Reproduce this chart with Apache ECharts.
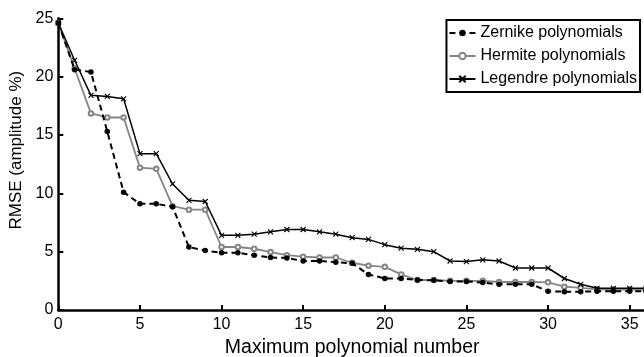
<!DOCTYPE html>
<html>
<head>
<meta charset="utf-8">
<script src="https://cdn.jsdelivr.net/npm/echarts@6/dist/echarts.min.js"></script>
<style>
html,body{margin:0;padding:0;background:#fff;}
#chart{width:644px;height:357px;}
</style>
</head>
<body>
<div id="chart"></div>
<script>
var polyNumbers = [0,1,2,3,4,5,6,7,8,9,10,11,12,13,14,15,16,17,18,19,20,21,22,23,24,25,26,27,28,29,30,31,32,33,34,35,36];
var zernike = [24.6,20.6,20.4,15.3,10.1,9.1,9.1,8.85,5.4,5.1,4.9,4.9,4.7,4.5,4.45,4.2,4.2,4.1,4.0,3.05,2.7,2.7,2.57,2.55,2.45,2.45,2.35,2.2,2.2,2.2,1.6,1.57,1.57,1.6,1.6,1.6,1.6];
var hermite = [24.6,20.7,16.85,16.5,16.5,12.2,12.1,8.9,8.6,8.6,5.4,5.4,5.25,4.97,4.7,4.57,4.5,4.5,4.05,3.8,3.7,3.05,2.57,2.57,2.5,2.5,2.5,2.4,2.4,2.4,2.37,2.0,1.9,1.77,1.75,1.75,1.75];
var legendre = [24.6,21.4,18.4,18.3,18.1,13.4,13.4,10.8,9.4,9.3,6.4,6.4,6.5,6.7,6.9,6.9,6.7,6.5,6.2,6.05,5.6,5.3,5.2,5.0,4.2,4.15,4.3,4.2,3.6,3.6,3.6,2.7,2.2,1.86,1.86,1.86,1.86];
var seriesNames = ['Zernike polynomials','Hermite polynomials','Legendre polynomials'];
var xTicks = [0,5,10,15,20,25,30,35];
var yTicks = [0,5,10,15,20,25];

function pairs(arr){ return arr.map(function(v,i){ return [polyNumbers[i], v]; }); }

var chart = echarts.init(document.getElementById('chart'));
var font = 'Liberation Sans, Arial, Helvetica, sans-serif';
chart.setOption({
  animation: false,
  backgroundColor: '#fff',
  grid: {left: 58.3, right: -2, top: 18.3, bottom: 47, containLabel: false, outerBoundsMode: 'none'},
  legend: {
    orient: 'vertical',
    right: 4, top: 20,
    backgroundColor: '#fff',
    borderColor: '#000', borderWidth: 2,
    padding: [5, 3, 5, 2],
    itemGap: 7,
    itemWidth: 26, itemHeight: 8,
    textStyle: {fontFamily: font, fontSize: 16, color: '#000', lineHeight: 15},
    data: seriesNames
  },
  xAxis: {
    type: 'value', min: 0, max: 36, interval: 5,
    name: 'Maximum polynomial number', nameLocation: 'middle', nameGap: 27,
    nameTextStyle: {fontFamily: font, fontSize: 19.5, color: '#000'},
    axisLine: {show: true, onZero: false, lineStyle: {color: '#000', width: 2.5}},
    axisTick: {show: true, inside: true, length: 5, lineStyle: {color: '#000', width: 2}},
    axisLabel: {fontFamily: font, fontSize: 16, color: '#000', margin: 7,
      formatter: function(v){ return xTicks.indexOf(v) >= 0 ? String(v) : ''; }},
    splitLine: {show: false}
  },
  yAxis: {
    type: 'value', min: 0, max: 25, interval: 5,
    name: 'RMSE (amplitude %)', nameLocation: 'middle', nameGap: 25,
    nameTextStyle: {fontFamily: font, fontSize: 17, color: '#000', padding: [0, 0, 0, 28]},
    axisLine: {show: true, onZero: false, lineStyle: {color: '#000', width: 2.5}},
    axisTick: {show: true, inside: true, length: 5, lineStyle: {color: '#000', width: 2}},
    axisLabel: {fontFamily: font, fontSize: 16, color: '#000', margin: 5,
      formatter: function(v){ return yTicks.indexOf(v) >= 0 ? String(v) : ''; }},
    splitLine: {show: false}
  },
  series: [
    {
      name: seriesNames[0], type: 'line', data: pairs(zernike),
      symbol: 'circle', symbolSize: 5.5, showAllSymbol: true,
      lineStyle: {color: '#000', width: 2, type: [6, 4]},
      itemStyle: {color: '#000', borderColor: '#000', borderWidth: 0},
      z: 3
    },
    {
      name: seriesNames[1], type: 'line', data: pairs(hermite),
      symbol: 'emptyCircle', symbolSize: 4.5, showAllSymbol: true,
      lineStyle: {color: '#858585', width: 1.8},
      itemStyle: {color: '#858585', borderColor: '#858585', borderWidth: 1.3},
      z: 2
    },
    {
      name: seriesNames[2], type: 'line', data: pairs(legendre),
      symbol: 'path://M0,0L10,10M10,0L0,10', symbolSize: 5, showAllSymbol: true,
      lineStyle: {color: '#000', width: 1.5},
      itemStyle: {color: 'rgba(0,0,0,0)', borderColor: '#000', borderWidth: 1.1},
      z: 4
    }
  ]
});
</script>
</body>
</html>
